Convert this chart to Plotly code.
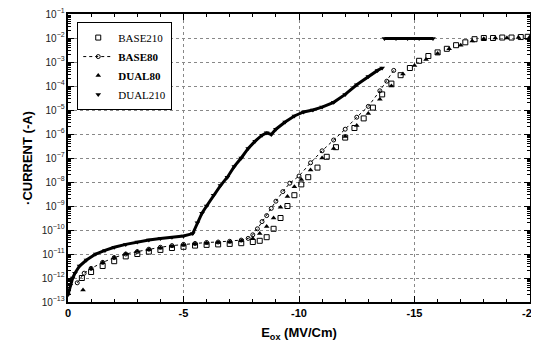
import plotly.graph_objects as go

# ---- data (x = Eox in MV/cm, values as log10 of current) ----
dual210_x = [0.0, -0.1, -0.2, -0.3, -0.5, -0.8, -1.2, -1.6, -2.0, -2.5, -3.0, -3.5, -4.0, -4.5, -5.0,
             -5.4, -5.6, -5.8, -6.0, -6.3, -6.6, -6.9, -7.2, -7.5, -7.8, -8.1, -8.4, -8.6, -8.8, -9.0,
             -9.4, -9.8, -10.2, -10.6, -11.0, -11.5, -12.0, -12.5, -13.0, -13.4, -13.6,
             None, -13.7, -14.2, -14.7, -15.2, -15.8]
dual210_log = [-12.7, -12.3, -12.0, -11.8, -11.5, -11.25, -11.0, -10.85, -10.72, -10.6, -10.5, -10.42, -10.35, -10.3, -10.25,
               -10.15, -9.7, -9.3, -9.0, -8.55, -8.15, -7.8, -7.35, -7.0, -6.6, -6.3, -6.05, -5.95, -6.02, -5.8,
               -5.5, -5.25, -5.08, -5.0, -4.88, -4.68, -4.35, -3.95, -3.6, -3.35, -3.25,
               None, -2.02, -2.02, -2.02, -2.02, -2.02]

base80_x = [-0.4, -0.7, -1.0, -1.5, -2.0, -2.5, -3.0, -3.5, -4.0, -4.5, -5.0, -5.5, -6.0, -6.5, -7.0, -7.5,
            -7.8, -8.0, -8.2, -8.4, -8.6, -8.8, -9.0, -9.3, -9.6, -10.0, -10.5, -11.0, -11.5, -12.0,
            -12.5, -13.0, -13.5, -13.8, -14.1]
base80_log = [-12.2, -11.8, -11.6, -11.35, -11.15, -11.0, -10.9, -10.8, -10.72, -10.65, -10.6, -10.56, -10.52, -10.5, -10.47, -10.42,
              -10.35, -10.2, -9.95, -9.65, -9.4, -9.1, -8.8, -8.4, -8.05, -7.75, -7.2, -6.7, -6.25, -5.8,
              -5.3, -4.85, -4.2, -3.8, -3.35]

dual80_x = [-0.65, -1.0, -1.5, -2.0, -2.5, -3.0, -3.5, -4.0, -4.5, -5.0, -5.5, -6.0, -6.5, -7.0, -7.5,
            -8.0, -8.3, -8.6, -8.9, -9.2, -9.5, -9.8, -10.1, -10.5, -11.0, -11.5, -12.0, -12.5, -13.0,
            -13.5, -14.0, -14.5, -15.0, -15.5, -16.0, -16.5, -17.0, -17.5, -18.0, -18.5, -19.0, -19.5, -20.0]
dual80_log = [-12.5, -11.6, -11.35, -11.15, -11.0, -10.9, -10.82, -10.75, -10.68, -10.62, -10.58, -10.55, -10.52, -10.5, -10.45,
              -10.35, -10.15, -9.85, -9.5, -9.05, -8.6, -8.2, -7.9, -7.5, -7.0, -6.6, -6.1, -5.65, -5.15,
              -4.55, -4.0, -3.5, -3.15, -2.9, -2.65, -2.45, -2.3, -2.12, -2.03, -2.0, -2.0, -1.98, -1.95]

base210_x = [-0.6, -1.0, -1.5, -2.0, -2.5, -3.0, -3.5, -4.0, -4.5, -5.0, -5.5, -6.0, -6.5, -7.0, -7.5,
             -8.0, -8.3, -8.6, -8.9, -9.2, -9.5, -9.8, -10.1, -10.4, -10.8, -11.2, -11.6, -12.0, -12.4,
             -12.8, -13.2, -13.6, -14.0, -14.4, -14.8, -15.2, -15.6, -16.0, -16.4, -16.8, -17.2, -17.6,
             -18.0, -18.4, -18.8, -19.2, -19.6, -19.9]
base210_log = [-12.0, -11.75, -11.5, -11.3, -11.1, -11.0, -10.9, -10.83, -10.75, -10.7, -10.65, -10.62, -10.6, -10.58, -10.55,
               -10.5, -10.45, -10.3, -9.95, -9.5, -9.0, -8.55, -8.1, -7.8, -7.4, -6.95, -6.55, -6.15, -5.75,
               -5.35, -4.9, -4.35, -3.9, -3.55, -3.25, -2.95, -2.75, -2.6, -2.45, -2.3, -2.18, -2.05,
               -2.0, -2.0, -1.98, -1.98, -1.96, -1.95]

x_ticks = [0, -5, -10, -15, -20]
x_tick_text = ["0", "-5", "-10", "-15", "-20"]


def to_amp(logs):
    return [None if v is None else 10 ** v for v in logs]


fig = go.Figure()
fig.add_trace(go.Scatter(
    x=base210_x, y=to_amp(base210_log), name="BASE210", mode="markers",
    marker=dict(symbol="square-open", size=5, color="black", line=dict(width=1))))
fig.add_trace(go.Scatter(
    x=base80_x, y=to_amp(base80_log), name="<b>BASE80</b>", mode="lines+markers",
    line=dict(color="black", width=1, dash="dot"),
    marker=dict(symbol="circle-open", size=4, color="black", line=dict(width=1))))
fig.add_trace(go.Scatter(
    x=dual80_x, y=to_amp(dual80_log), name="<b>DUAL80</b>", mode="markers",
    marker=dict(symbol="triangle-up", size=5, color="black")))
# DUAL210: dense markers drawn as a thick trail + markers
fig.add_trace(go.Scatter(
    x=dual210_x, y=to_amp(dual210_log), mode="lines", showlegend=False,
    connectgaps=False, line=dict(color="black", width=3), hoverinfo="skip"))
fig.add_trace(go.Scatter(
    x=dual210_x, y=to_amp(dual210_log), name="DUAL210", mode="markers",
    marker=dict(symbol="triangle-down", size=5, color="black")))

fig.update_layout(
    width=539, height=361,
    margin=dict(l=60, r=17, t=6, b=67),
    paper_bgcolor="white", plot_bgcolor="white",
    font=dict(family="Liberation Sans, Arial, sans-serif", color="black"),
    showlegend=True,
    legend=dict(
        x=0.02, y=0.972, xanchor="left", yanchor="top",
        bgcolor="white", bordercolor="black", borderwidth=1,
        font=dict(family="Liberation Serif, Times New Roman, serif", size=11, color="black"),
        tracegroupgap=0, itemwidth=30,
    ),
)
fig.update_xaxes(
    range=[0, -20], automargin=False,
    tickvals=x_ticks, ticktext=x_tick_text,
    ticks="inside", ticklen=6, tickwidth=1, tickcolor="black",
    minor=dict(ticks="inside", ticklen=3, dtick=1, tickcolor="black", showgrid=False),
    showline=True, linecolor="black", linewidth=1.5, mirror="ticks",
    showgrid=True, gridcolor="#888", griddash="dot", gridwidth=1,
    zeroline=False, ticklabeloverflow="allow",
    tickfont=dict(size=11, family="Liberation Sans, Arial", color="black", weight="bold"),
    title=dict(text="<b>E<sub>ox</sub> (MV/Cm)</b>", font=dict(size=13), standoff=10),
)
fig.update_yaxes(
    type="log", range=[-13, -1], dtick=1, automargin=False,
    exponentformat="power", showexponent="all",
    ticks="inside", ticklen=6, tickwidth=1, tickcolor="black",
    minor=dict(ticks="inside", ticklen=3, tickcolor="black", showgrid=False),
    showline=True, linecolor="black", linewidth=1.5, mirror="ticks",
    showgrid=True, gridcolor="#888", griddash="dot", gridwidth=1,
    zeroline=False, ticklabeloverflow="allow",
    tickfont=dict(size=8, color="#222"),
    title=dict(text="·CURRENT (-A)", font=dict(size=13, weight="bold"), standoff=6),
)

fig.write_html("out.html")
